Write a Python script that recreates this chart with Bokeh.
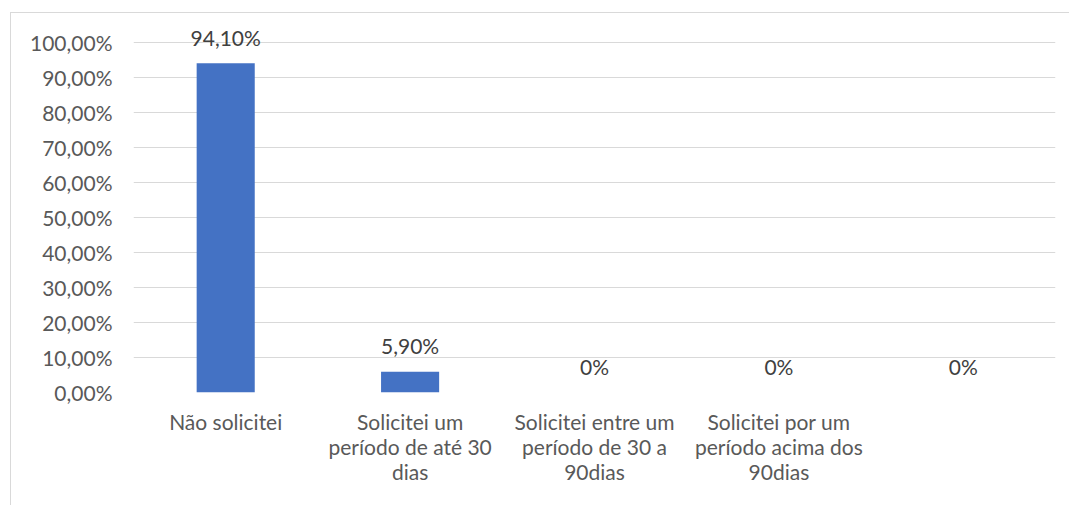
from bokeh.plotting import figure
from bokeh.models import ColumnDataSource, FixedTicker
from bokeh.core.properties import value
from bokeh.embed import file_html
from bokeh.resources import INLINE

categories = ["Não solicitei", "Solicitei um\nperíodo de até 30\ndias",
              "Solicitei entre um\nperíodo de 30 a\n90dias",
              "Solicitei por um\nperíodo acima dos\n90dias", ""]
values = [94.10, 5.90, 0, 0, 0]
y_ticks = [0, 10, 20, 30, 40, 50, 60, 70, 80, 90, 100]
y_tick_labels = ["0,00%", "10,00%", "20,00%", "30,00%", "40,00%", "50,00%",
                 "60,00%", "70,00%", "80,00%", "90,00%", "100,00%"]

def fmt(v):
    return "0%" if v == 0 else (f"{v:.2f}%").replace(".", ",")

xs = list(range(1, len(categories) + 1))
src = ColumnDataSource(dict(x=xs, top=values, lab=[fmt(v) for v in values]))

FONT = "Lato"
GRAY = "#595959"
FS = "21px"

# figure placed at (10, 12) of the page with a thin border on its top/left
p = figure(width=1059, height=493, x_range=(0.5, 5.5), y_range=(0, 108),
           output_backend="svg", toolbar_location=None,
           min_border_left=122, min_border_right=15, min_border_top=1,
           min_border_bottom=114)
p.styles = {"margin-left": "10px", "margin-top": "12px",
            "border-left": "1px solid #d9d9d9", "border-top": "1px solid #d9d9d9"}
p.outline_line_color = None
p.background_fill_color = "white"
p.border_fill_color = "white"

p.vbar(x="x", top="top", width=0.315, source=src, fill_color="#4472C4",
       line_color=None)
p.text(x="x", y="top", text="lab", source=src, text_align="center",
       text_baseline="middle", y_offset=-26, text_font=value(FONT),
       text_font_size=FS, text_color="#404040")

p.xgrid.visible = False
p.ygrid.ticker = FixedTicker(ticks=y_ticks)
p.ygrid.grid_line_color = "#d9d9d9"
p.ygrid.grid_line_width = 1

p.yaxis.ticker = FixedTicker(ticks=y_ticks)
p.yaxis.major_label_overrides = {t: l for t, l in zip(y_ticks, y_tick_labels)}
p.xaxis.ticker = FixedTicker(ticks=xs)
p.xaxis.major_label_overrides = {x: c for x, c in zip(xs, categories)}

for ax in (p.xaxis[0], p.yaxis[0]):
    ax.axis_line_color = None
    ax.major_tick_line_color = None
    ax.minor_tick_line_color = None
    ax.major_tick_in = 0
    ax.major_tick_out = 0
    ax.minor_tick_in = 0
    ax.minor_tick_out = 0
    ax.major_label_text_font = FONT
    ax.major_label_text_font_size = FS
    ax.major_label_text_color = GRAY
p.yaxis.major_label_standoff = 21
p.xaxis.major_label_standoff = 16
p.xaxis.major_label_text_line_height = 1.0

open("out.html", "w").write(file_html(p, INLINE))
